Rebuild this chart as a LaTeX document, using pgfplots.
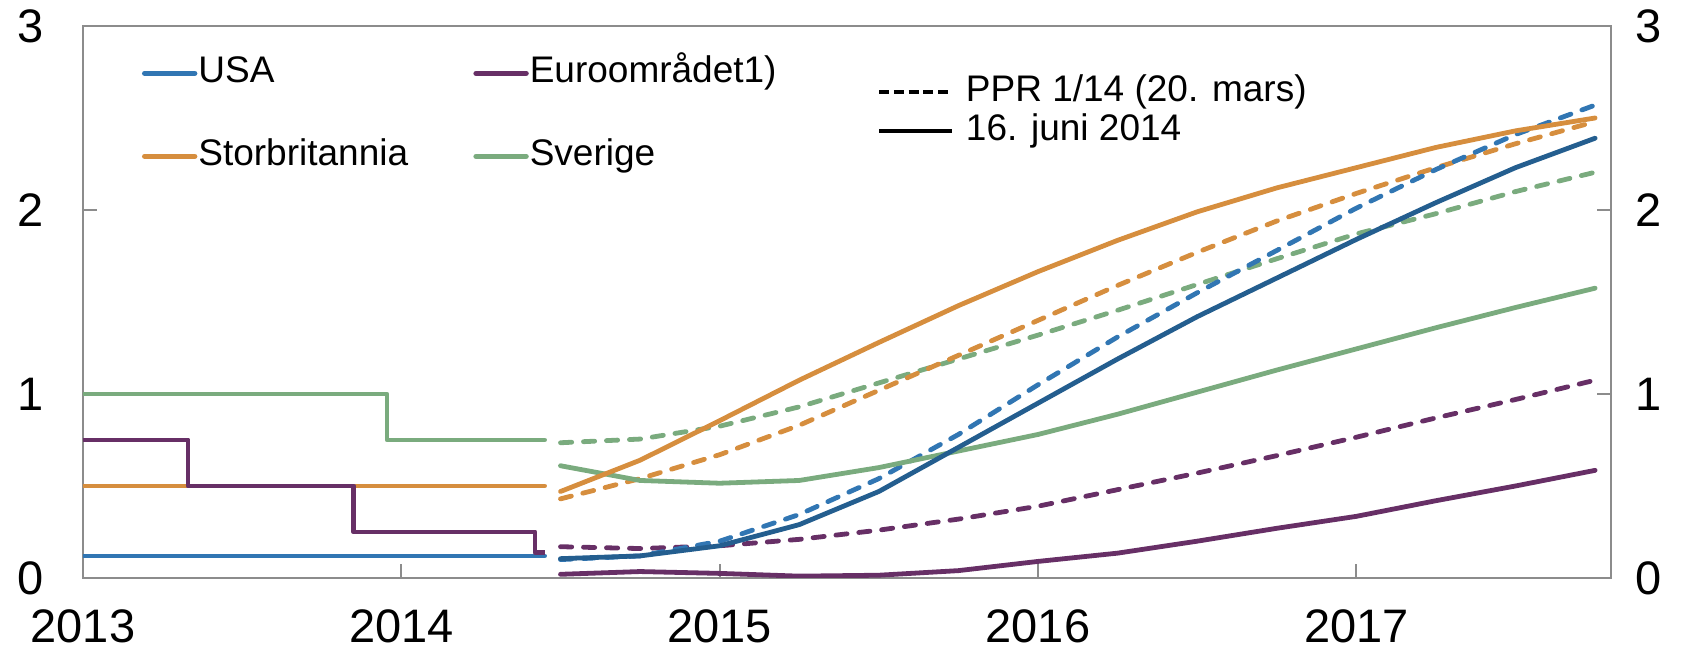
\documentclass[border=0pt]{standalone}
\usepackage{pgfplots}
\pgfplotsset{compat=1.18}
\usepackage{fontspec}
\setmainfont{Liberation Sans}
\definecolor{cblue}{HTML}{3176B3}
\definecolor{cbluedk}{HTML}{245E8F}
\definecolor{cpurple}{HTML}{672F66}
\definecolor{corange}{HTML}{D68E3E}
\definecolor{cgreen}{HTML}{7AAB7E}
\definecolor{cframe}{HTML}{8C8C8C}
\newcommand{\tickfont}{\fontsize{23.5}{27}\selectfont}
\newcommand{\legfont}{\fontsize{18.5}{22}\selectfont}
\begin{document}
\begin{tikzpicture}
\pgfplotsset{
  common/.style={
    scale only axis, width=764pt, height=276pt,
    xmin=2013, xmax=2017.8, ymin=0, ymax=3,
    axis line style={draw=cframe, line width=0.9pt},
    tick style={draw=cframe, line width=0.9pt},
    major tick length=7pt, tick align=inside,
    ytick={0,1,2,3},
    /pgf/number format/assume math mode=true,
  },
  sol/.style={line width=2.4pt, line join=round, line cap=round},
  das/.style={line width=2.4pt, line join=round, line cap=round, dash pattern=on 5.6pt off 5.9pt},
}
\begin{axis}[common,
  xtick={2013,2014,2015,2016,2017},
  xticklabels={2013,2014,2015,2016,2017},
  xtick pos=bottom, ytick pos=left,
  xticklabel style={font=\tickfont, inner sep=0pt, anchor=north, yshift=-15.5pt},
  yticklabel style={font=\tickfont, inner sep=0pt, anchor=east, xshift=-19.5pt},
  legend columns=2,
  legend cell align=left,
  legend image code/.code={\draw[#1, line width=2.7pt, line cap=round, solid] (0pt,0pt) -- (25pt,0pt);},
  legend style={at={(0.0386,0.946)}, anchor=north west, draw=none, fill=none,
    inner sep=0pt, outer sep=0pt, font=\legfont,
    nodes={inner sep=0pt, text height=13.5pt, text depth=4pt},
    row sep=24pt,
    /tikz/column 1/.style={column sep=0.5pt},
    /tikz/column 2/.style={column sep=17.5pt},
    /tikz/column 3/.style={column sep=0.5pt}},
]
% legend entries
\addlegendimage{cblue}\addlegendentry{\makebox[120pt][l]{USA}}
\addlegendimage{cpurple}\addlegendentry{Euroområdet1)}
\addlegendimage{corange}\addlegendentry{\makebox[120pt][l]{Storbritannia}}
\addlegendimage{cgreen}\addlegendentry{Sverige}

% historical
\addplot[sol, cblue, forget plot] coordinates {(2013,0.12) (2014.45,0.12)};
\addplot[sol, corange, forget plot] coordinates {(2013,0.5) (2014.45,0.5)};
\addplot[sol, cgreen, forget plot] coordinates {(2013,1) (2013.955,1) (2013.955,0.75) (2014.45,0.75)};
\addplot[sol, cpurple, forget plot, line cap=butt] coordinates {(2013,0.75) (2013.33,0.75) (2013.33,0.5) (2013.85,0.5) (2013.85,0.25) (2014.42,0.25) (2014.42,0.14) (2014.45,0.14)};

% PPR 1/14 (dashed)
\addplot[das, cgreen, forget plot] coordinates {
(2014.5,0.735) (2014.75,0.755) (2015,0.825) (2015.25,0.93) (2015.5,1.06) (2015.75,1.19)
(2016,1.32) (2016.25,1.455) (2016.5,1.595) (2016.75,1.735) (2017,1.87) (2017.25,1.98) (2017.5,2.10) (2017.75,2.205)};
\addplot[das, corange, forget plot] coordinates {
(2014.5,0.43) (2014.75,0.54) (2015,0.67) (2015.25,0.83) (2015.5,1.02) (2015.75,1.21)
(2016,1.40) (2016.25,1.59) (2016.5,1.77) (2016.75,1.94) (2017,2.09) (2017.25,2.23) (2017.5,2.36) (2017.75,2.48)};
\addplot[das, cpurple, forget plot] coordinates {
(2014.5,0.17) (2014.75,0.16) (2015,0.175) (2015.25,0.21) (2015.5,0.26) (2015.75,0.32)
(2016,0.39) (2016.25,0.48) (2016.5,0.57) (2016.75,0.665) (2017,0.765) (2017.25,0.87) (2017.5,0.97) (2017.75,1.075)};
\addplot[das, cblue, forget plot] coordinates {
(2014.5,0.10) (2014.75,0.12) (2015,0.20) (2015.25,0.345) (2015.5,0.54) (2015.75,0.78)
(2016,1.05) (2016.25,1.31) (2016.5,1.55) (2016.75,1.78) (2017,2.01) (2017.25,2.22) (2017.5,2.41) (2017.75,2.57)};

% 16. juni 2014 (solid)
\addplot[sol, cgreen, forget plot] coordinates {
(2014.5,0.61) (2014.75,0.53) (2015,0.515) (2015.25,0.53) (2015.5,0.60) (2015.75,0.69)
(2016,0.78) (2016.25,0.89) (2016.5,1.01) (2016.75,1.13) (2017,1.245) (2017.25,1.36) (2017.5,1.47) (2017.75,1.575)};
\addplot[sol, corange, forget plot] coordinates {
(2014.5,0.47) (2014.75,0.64) (2015,0.855) (2015.25,1.075) (2015.5,1.28) (2015.75,1.48)
(2016,1.665) (2016.25,1.835) (2016.5,1.99) (2016.75,2.12) (2017,2.23) (2017.25,2.34) (2017.5,2.43) (2017.75,2.50)};
\addplot[sol, cpurple, forget plot] coordinates {
(2014.5,0.02) (2014.75,0.035) (2015,0.025) (2015.25,0.01) (2015.5,0.015) (2015.75,0.04)
(2016,0.09) (2016.25,0.135) (2016.5,0.20) (2016.75,0.27) (2017,0.335) (2017.25,0.42) (2017.5,0.50) (2017.75,0.585)};
\addplot[sol, cbluedk, forget plot] coordinates {
(2014.5,0.105) (2014.75,0.12) (2015,0.175) (2015.25,0.29) (2015.5,0.47) (2015.75,0.71)
(2016,0.95) (2016.25,1.19) (2016.5,1.42) (2016.75,1.63) (2017,1.84) (2017.25,2.04) (2017.5,2.23) (2017.75,2.39)};
\end{axis}
\begin{axis}[common,
  axis x line=none,
  axis y line*=right,
  yticklabel style={font=\tickfont, inner sep=0pt, anchor=west, xshift=12pt},
  legend cell align=left,
  legend style={at={(0.520,0.912)}, anchor=north west, draw=none, fill=none,
    inner sep=0pt, outer sep=0pt, font=\legfont,
    nodes={inner sep=0pt, text height=13.5pt, text depth=4pt},
    row sep=2pt,
    /tikz/column 1/.style={column sep=6pt}},
]
\addlegendimage{legend image code/.code={\draw[black, line width=1.7pt, dash pattern=on 5pt off 2.35pt] (0pt,0pt) -- (36.5pt,0pt);}}
\addlegendentry{PPR 1/14 (20. mars)}
\addlegendimage{legend image code/.code={\draw[black, line width=1.7pt] (0pt,0pt) -- (36.5pt,0pt);}}
\addlegendentry{16. juni 2014}
\end{axis}
\pgfresetboundingbox
\path[use as bounding box] (-41.5pt,-39pt) rectangle (802pt,289pt);
\end{tikzpicture}
\end{document}
